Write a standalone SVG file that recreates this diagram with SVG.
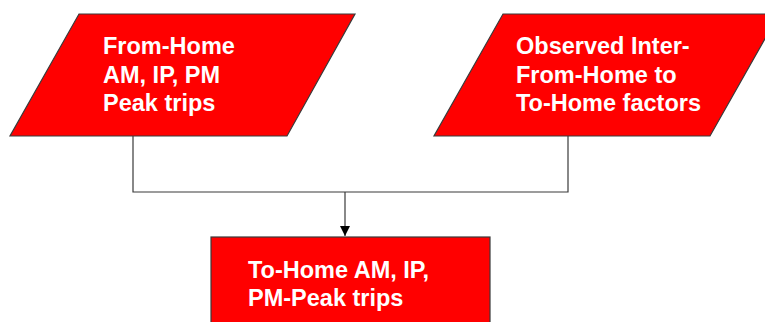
<svg xmlns="http://www.w3.org/2000/svg" width="765" height="322" viewBox="0 0 765 322">
<style>
.shape{fill:#ff0000;stroke:#3a3a3a;stroke-width:1.2}
.lbl{font-family:"Liberation Sans",Arial,sans-serif;font-weight:bold;font-size:23.5px;fill:#ffffff}
.conn{fill:none;stroke:#3a3a3a;stroke-width:1.2}
</style>
<defs>
<marker id="arr" markerWidth="12" markerHeight="12" refX="10" refY="5" orient="auto" markerUnits="userSpaceOnUse">
<path d="M0,0 L10,5 L0,10 Z" fill="#000"/>
</marker>
</defs>
<rect width="765" height="322" fill="#ffffff"/>
<g id="connectors">
<polyline class="conn" points="133,136 133,192 568,192 568,136"/>
<line class="conn" x1="345" y1="192" x2="345" y2="236" marker-end="url(#arr)"/>
</g>
<g id="fromHome">
<polygon class="shape" points="79,14 355,14 287,136 10,136"/>
<text class="lbl" x="103" y="54">From-Home</text>
<text class="lbl" x="103" y="83">AM, IP, PM</text>
<text class="lbl" x="103" y="111">Peak trips</text>
</g>
<g id="factors">
<polygon class="shape" points="503,14 779,14 710,136 434,136"/>
<text class="lbl" x="516" y="54">Observed Inter-</text>
<text class="lbl" x="516" y="83">From-Home to</text>
<text class="lbl" x="516" y="111">To-Home factors</text>
</g>
<g id="toHome">
<rect class="shape" x="211" y="237" width="279" height="100"/>
<text class="lbl" x="248" y="278">To-Home AM, IP,</text>
<text class="lbl" x="248" y="306">PM-Peak trips</text>
</g>
</svg>
